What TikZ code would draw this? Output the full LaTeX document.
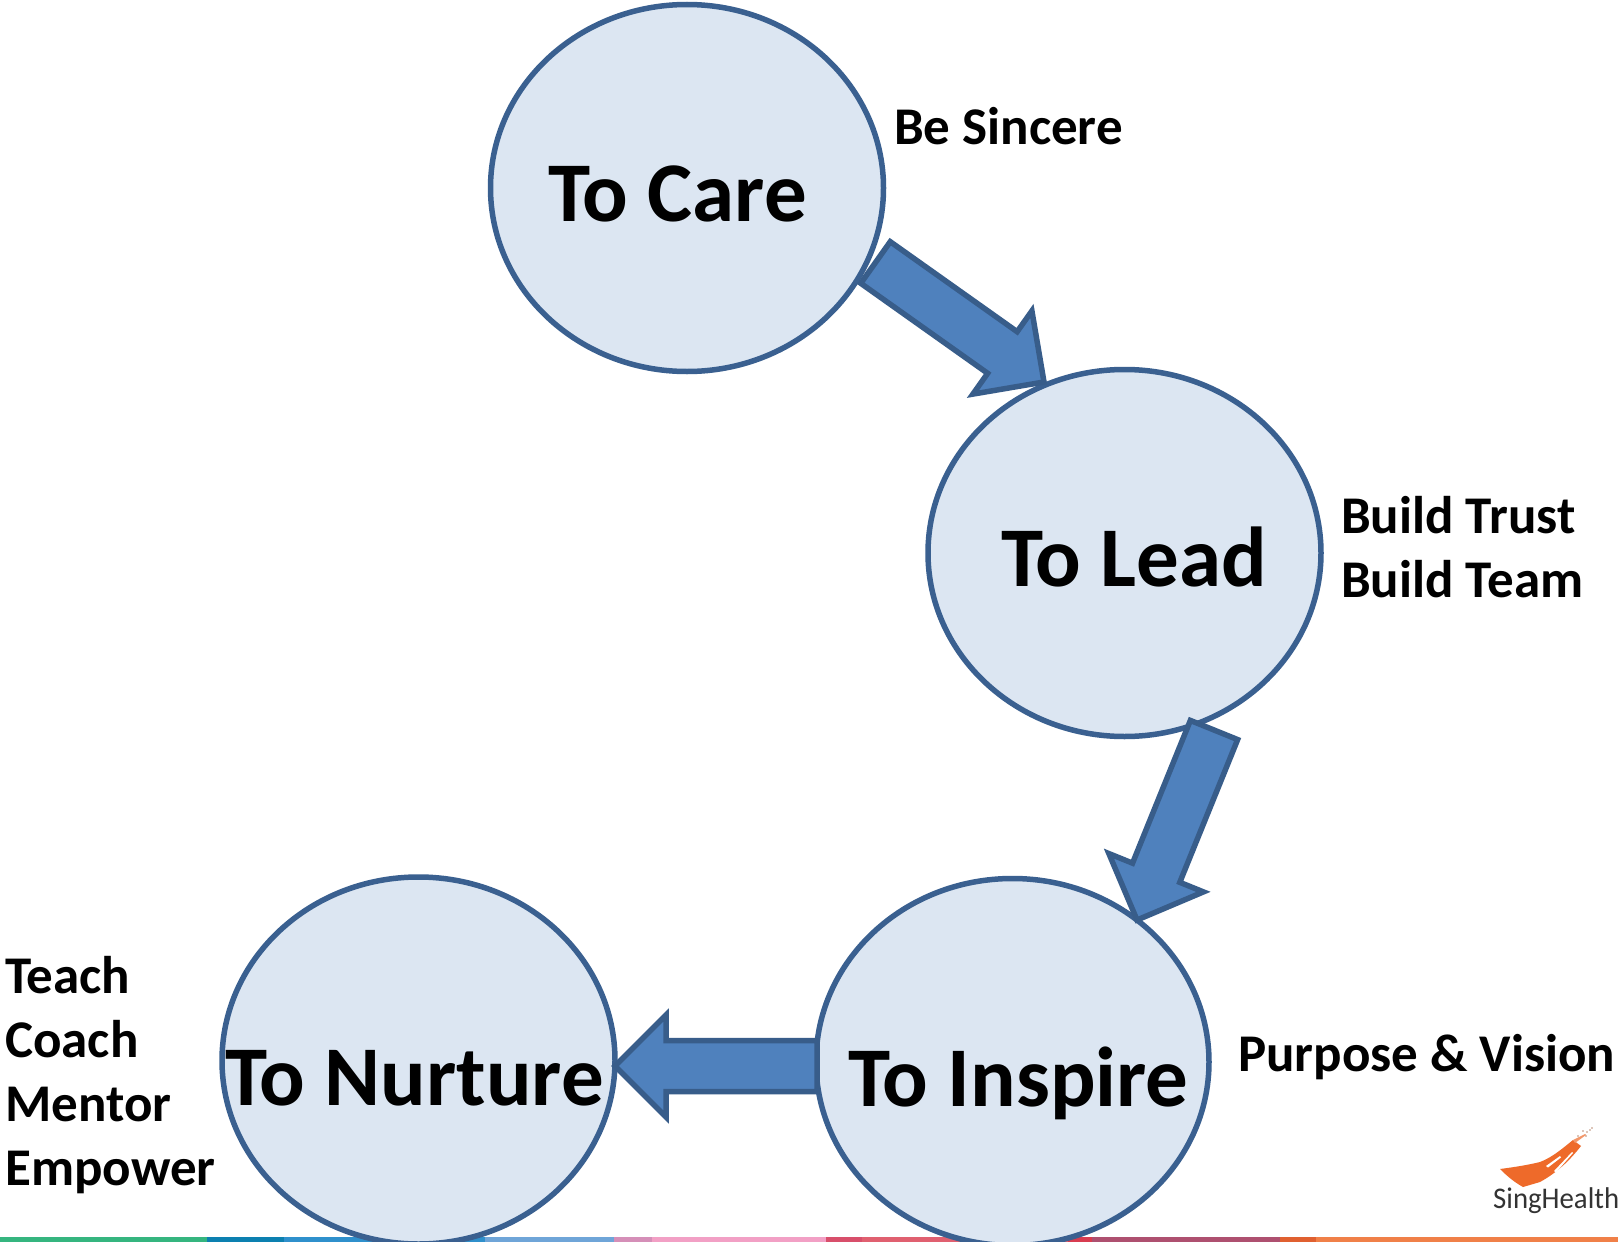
\documentclass[tikz,border=0pt]{standalone}
\usepackage{fontspec}
\setmainfont{Carlito}
\usetikzlibrary{calc,shapes.geometric}
\definecolor{ringline}{HTML}{3A6090}
\definecolor{ringfill}{HTML}{DCE6F2}
\definecolor{arrowfill}{HTML}{4F81BD}
\definecolor{arrowline}{HTML}{385D8A}
\definecolor{swoosh}{HTML}{EE6A2A}
\tikzset{
  ring/.style={ellipse,draw=ringline,fill=ringfill,line width=5.5pt,inner sep=0pt,minimum width=393pt,minimum height=367pt},
  bigtext/.style={anchor=base west,inner sep=0pt,font=\fontsize{85}{95}\selectfont\bfseries},
  smalltext/.style={anchor=base west,inner sep=0pt,font=\fontsize{53}{60}\selectfont\bfseries},
  blockarrow/.style={draw=arrowline,fill=arrowfill,line width=5.5pt,line join=miter,miter limit=10}
}
% block arrow between two named points
\newcommand{\blockarrow}[2]{%
  \coordinate (hb) at ($(#2)!51pt!(#1)$);
  \draw[blockarrow] ($(#1)!25.5pt!90:(#2)$) -- ($(hb)!25.5pt!-90:(#1)$) -- ($(hb)!51pt!-90:(#1)$) -- (#2)
    -- ($(hb)!51pt!90:(#1)$) -- ($(hb)!25.5pt!90:(#1)$) -- ($(#1)!25.5pt!-90:(#2)$) -- cycle;
}
\newcommand{\barseg}[3]{\fill[fill={rgb,255:#3}] (#1,1236.5) rectangle (#2,1242);}
\begin{document}
\begin{tikzpicture}[x=1pt,y=-1pt]
\useasboundingbox (0,0) rectangle (1618,1242);
\fill[white] (0,0) rectangle (1618,1242);
% bottom colour strip
\barseg{0}{207}{red,53;green,181;blue,127}
\barseg{207}{284}{red,12;green,128;blue,176}
\barseg{284}{485}{red,47;green,144;blue,204}
\barseg{485}{614}{red,111;green,165;blue,216}
\barseg{614}{652}{red,213;green,143;blue,184}
\barseg{652}{826}{red,242;green,160;blue,197}
\barseg{826}{862}{red,216;green,79;blue,107}
\barseg{862}{1068}{red,224;green,96;blue,112}
\barseg{1068}{1092}{red,216;green,60;blue,80}
\barseg{1092}{1280}{red,174;green,80;blue,112}
\barseg{1280}{1316}{red,224;green,96;blue,48}
\barseg{1316}{1618}{red,240;green,128;blue,72}
% circles
\node[ring] (care) at (687,188) {};
\node[ring] (lead) at (1124.5,553) {};
\node[ring] (inspire) at (1012.5,1062) {};
\node[ring] (nurture) at (418.5,1060.5) {};
% arrow ends
\coordinate (c1) at (875.5,262.5);
\coordinate (l1) at (1044,382);
\coordinate (l2) at (1214,730);
\coordinate (i2) at (1137,920);
\coordinate (i3) at (817,1066);
\coordinate (n3) at (615,1066);
\blockarrow{c1}{l1}
\blockarrow{l2}{i2}
\blockarrow{i3}{n3}
% circle titles
\node[bigtext] (tcare) at (548,221.5) {To Care};
\node[bigtext] (tlead) at (1001,586.5) {To Lead};
\node[bigtext] (tinspire) at (848,1106) {To Inspire};
\node[bigtext] (tnurture) at (225,1105) {To Nurture};
% side labels
\node[smalltext] (s1) at (894,144) {Be Sincere};
\node[smalltext] (s2) at (1341,533) {Build Trust};
\node[smalltext] (s3) at (1341,597) {Build Team};
\node[smalltext] (s4) at (1238,1071) {Purpose \& Vision};
\node[smalltext] (s5) at (5,993) {Teach};
\node[smalltext] (s6) at (5,1057) {Coach};
\node[smalltext] (s7) at (5,1121) {Mentor};
\node[smalltext] (s8) at (5,1185) {Empower};
% logo
\fill[swoosh] (1500,1169) .. controls (1515,1167) and (1528,1165) .. (1540,1162)
  .. controls (1553,1157) and (1563,1148) .. (1573,1140) -- (1581,1146)
  .. controls (1570,1160) and (1558,1172) .. (1540,1182) -- (1523,1187)
  .. controls (1514,1182) and (1507,1176) .. (1500,1169) -- cycle;
\fill[white] (1546,1166) -- (1560,1156) -- (1561,1157.5) -- (1548,1167.5) -- cycle;
\fill[white] (1554,1171) -- (1572,1152) -- (1573,1153) -- (1556,1172.5) -- cycle;
\fill[swoosh!70] (1573,1140) -- (1585,1134) -- (1586,1135) -- (1575,1143) -- cycle;
\foreach \px/\py in {1587/1132,1583/1131,1586/1136,1590/1130,1592/1128,1578/1136}
  \fill[swoosh!60!black!60] (\px,\py) circle (0.9);
\node[anchor=base west,inner sep=0pt,text=black!80,xscale=0.96,transform shape,font=\fontsize{30}{32}\selectfont] (logo) at (1493,1208) {SingHealth};
\end{tikzpicture}
\end{document}
